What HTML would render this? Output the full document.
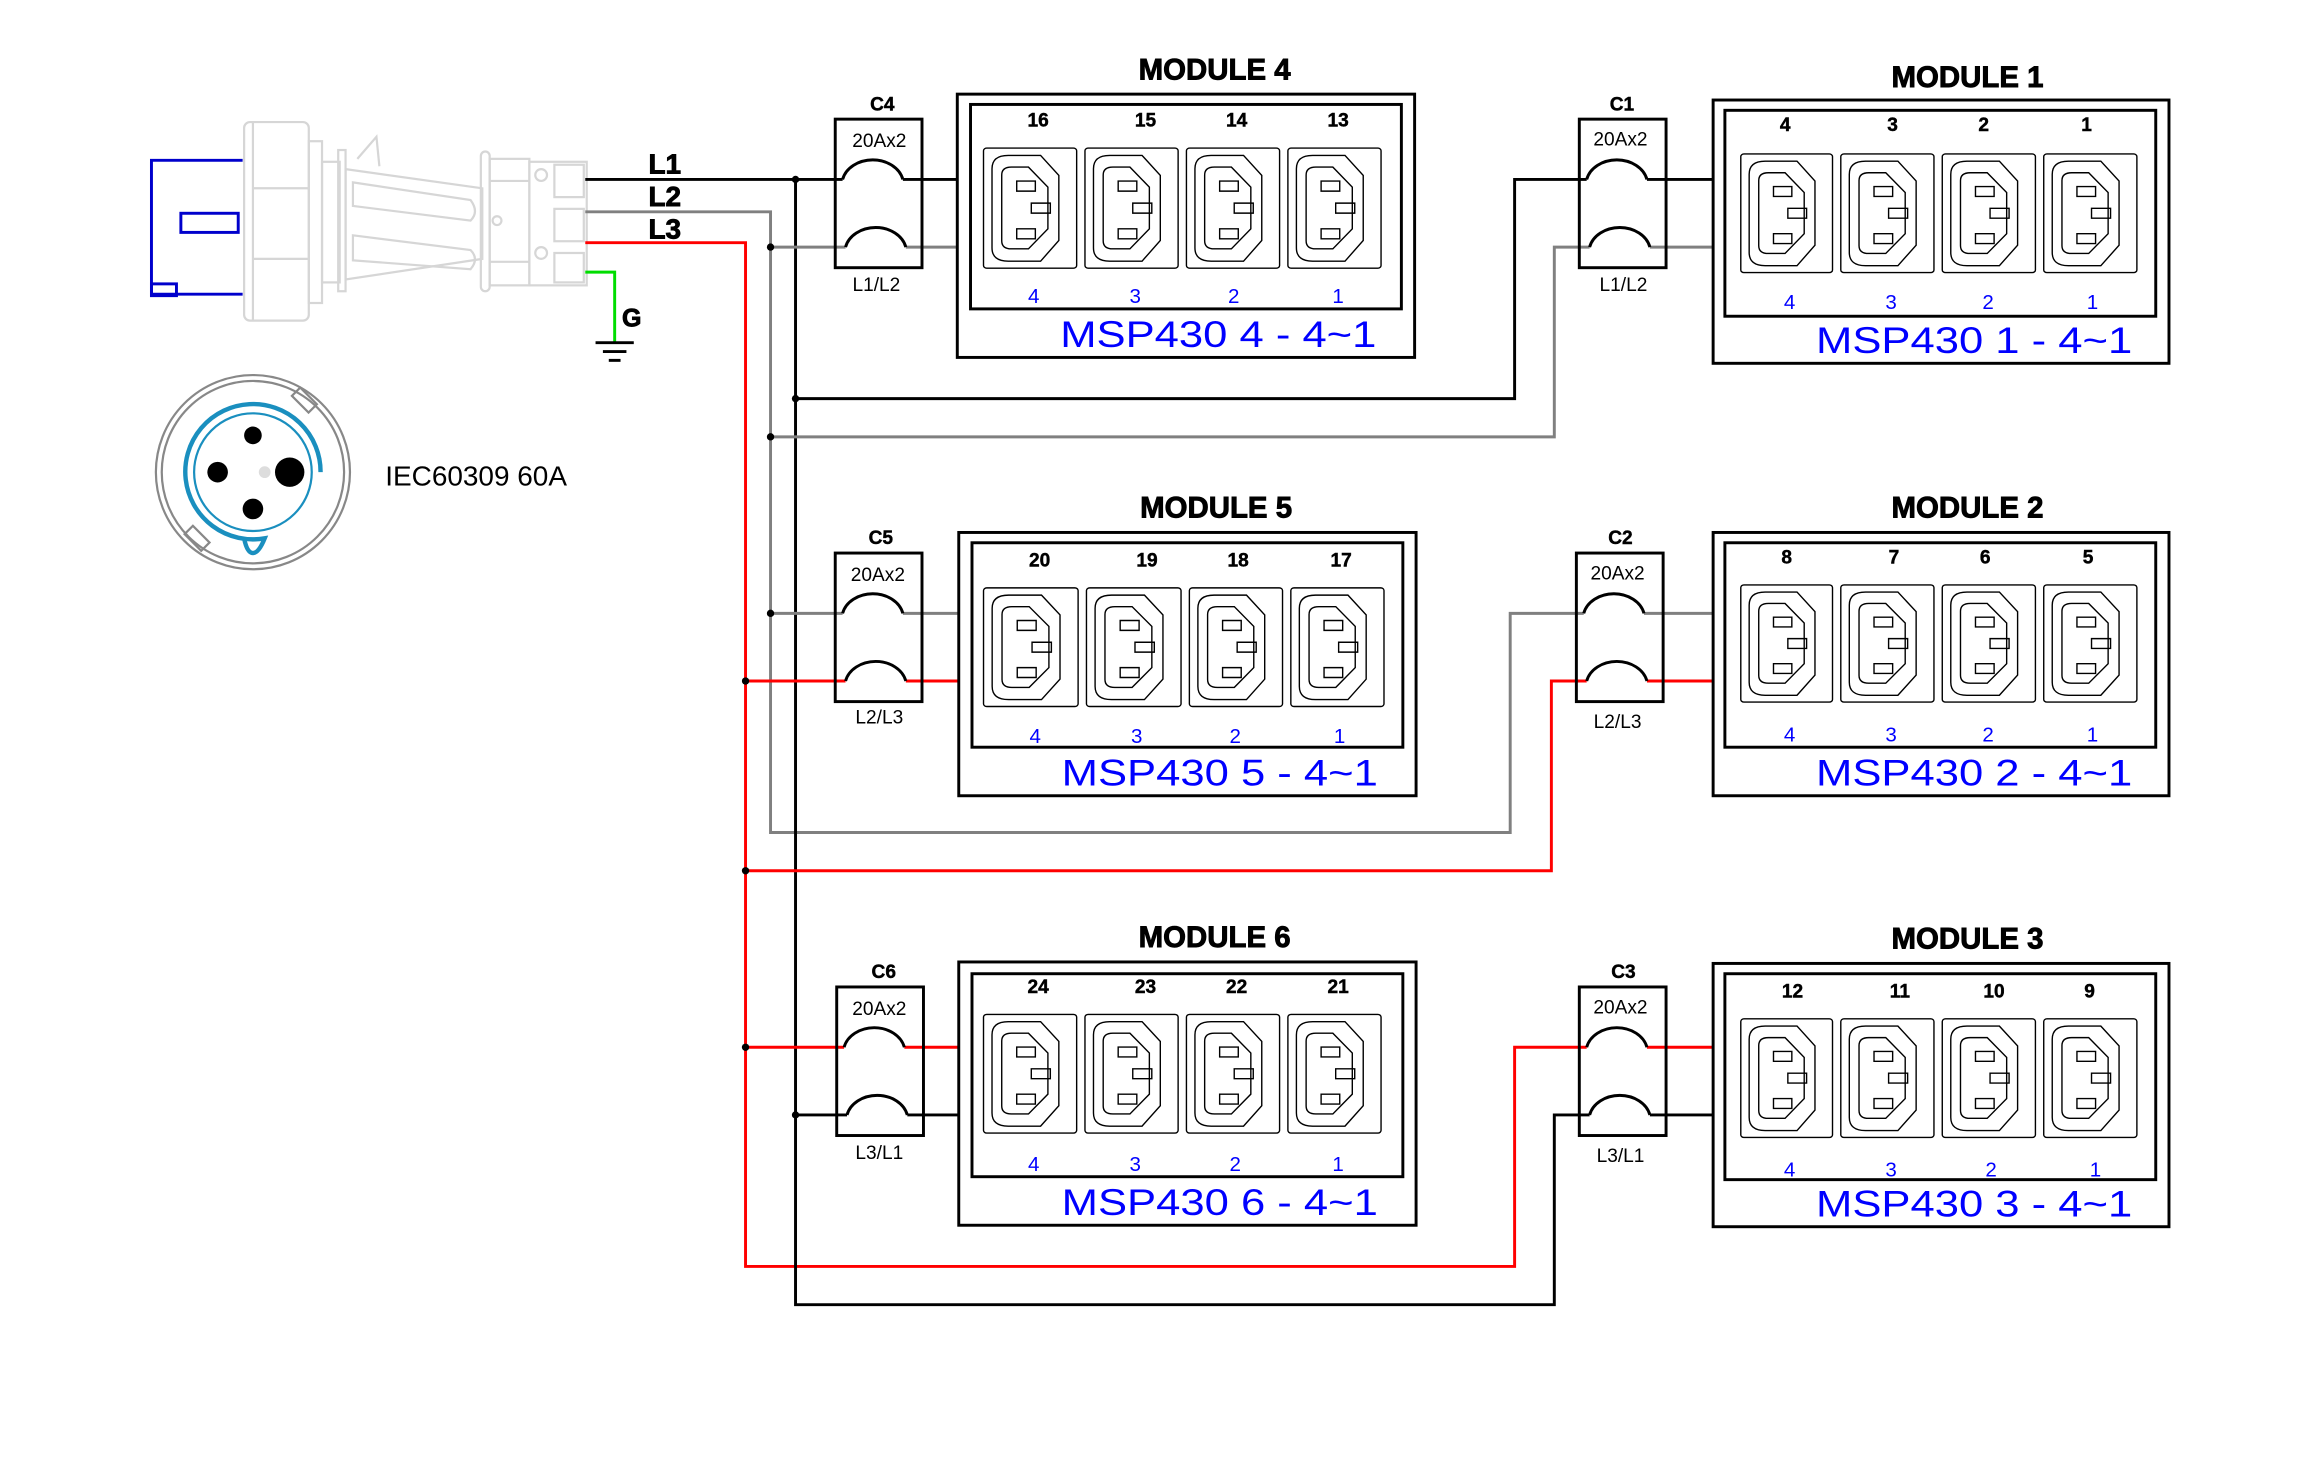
<!DOCTYPE html>
<html><head><meta charset="utf-8"><style>
html,body{margin:0;padding:0;background:#fff;}
svg{display:block;}
text{font-family:"Liberation Sans",sans-serif;}
.t{font-weight:bold;font-size:20px;text-anchor:middle;stroke:#000;stroke-width:0.6;}
.n{font-weight:bold;font-size:13px;text-anchor:middle;stroke:#000;stroke-width:0.3;}
.b{fill:#0000ff;font-size:14px;text-anchor:middle;}
.m{fill:#0000ff;font-size:25px;}
.c{font-size:13px;text-anchor:middle;}
.w{fill:none;stroke-width:2;}
</style></head><body>
<svg width="2305" height="1465" viewBox="0 0 1567.5 996" preserveAspectRatio="none" xmlns="http://www.w3.org/2000/svg">
<defs>
<symbol id="s" viewBox="0 0 236 366" preserveAspectRatio="none">
<g fill="none" stroke="#000" stroke-width="1.4" vector-effect="non-scaling-stroke">
<rect x="3" y="3" width="230" height="360" rx="8" vector-effect="non-scaling-stroke"/>
<path d="M64,25 L144,25 L189,85 L189,280 L144,342 L64,342 Q24,342 24,302 L24,65 Q24,25 64,25 Z" vector-effect="non-scaling-stroke"/>
<path d="M72,60 L114,60 L162,120 L162,245 L114,305 L72,305 Q48,305 48,281 L48,84 Q48,60 72,60 Z" vector-effect="non-scaling-stroke"/>
<rect x="85" y="102" width="46" height="30" vector-effect="non-scaling-stroke"/>
<rect x="121" y="168" width="47" height="30" vector-effect="non-scaling-stroke"/>
<rect x="85" y="245" width="46" height="30" vector-effect="non-scaling-stroke"/>
</g>
</symbol>
</defs>

<!-- plug -->
<g fill="none" stroke="#d6d6d6" stroke-width="1.5">
<rect x="166" y="83" width="44" height="135" rx="4"/>
<line x1="172" y1="83" x2="172" y2="218"/>
<line x1="172" y1="128" x2="210" y2="128"/><line x1="172" y1="176" x2="210" y2="176"/>
<rect x="210" y="96" width="9" height="110"/>
<rect x="219" y="110" width="12" height="82"/>
<rect x="230" y="102" width="5" height="96"/>
<path d="M235,115 L328,128 L328,176 L235,190 Z"/>
<path d="M243,108 L256,93 L258,113"/>
<path d="M240,124 L320,136 Q326,144 320,150 L240,140 Z"/>
<path d="M240,160 L320,170 Q326,176 320,183 L240,177 Z"/>
<rect x="327" y="103" width="6" height="95" rx="3"/>
<rect x="333" y="108" width="27" height="86"/>
<line x1="333" y1="123" x2="360" y2="123"/><line x1="333" y1="178" x2="360" y2="178"/>
<rect x="360" y="110" width="39" height="84"/>
<rect x="377" y="112" width="20" height="22"/><rect x="377" y="142" width="20" height="22"/><rect x="377" y="172" width="20" height="20"/>
<circle cx="368" cy="119" r="4"/><circle cx="368" cy="172" r="4"/><circle cx="338" cy="150" r="3"/>
</g>
<g fill="none" stroke="#0000cc" stroke-width="2">
<path d="M165,109 H103 V200 H165"/>
<rect x="123" y="145" width="39" height="13"/>
<rect x="103" y="193" width="17" height="8"/>
</g>

<!-- circle socket -->
<g fill="none">
<circle cx="172" cy="321" r="66" stroke="#888" stroke-width="1.5"/>
<circle cx="172" cy="321" r="62" stroke="#888" stroke-width="1.5"/>
<rect x="203" y="264" width="8" height="16" stroke="#888" stroke-width="1.5" transform="rotate(-45 207 272)"/>
<rect x="130" y="358" width="8" height="16" stroke="#888" stroke-width="1.5" transform="rotate(-45 134 366)"/>
<path d="M218,321 A46,46 0 1 0 180,366 Q176,376 172,376 Q168,376 166,366" stroke="#1a8fbf" stroke-width="3"/>
<circle cx="172" cy="321" r="40" stroke="#1a8fbf" stroke-width="1.5"/>
</g>
<circle cx="172" cy="296" r="6"/><circle cx="148" cy="321" r="7"/><circle cx="197" cy="321" r="10"/><circle cx="172" cy="346" r="7"/>
<circle cx="180" cy="321" r="4" fill="#ddd"/>
<text x="262" y="330" font-size="19">IEC60309 60A</text>

<!-- wires -->
<g class="w">
<path d="M398,122 H573 M614,122 H651" stroke="#000"/>
<path d="M398,144 H524 V566 H1027 V417 H1077 M1118,417 H1165" stroke="#808080"/>
<path d="M398,165 H507 V861 H1030 V712 H1079 M1120,712 H1165" stroke="#ff0000"/>
<path d="M541,122 V887 H1057 V758 H1081 M1122,758 H1165" stroke="#000"/>
<path d="M398,185 H418 V233" stroke="#00dd00"/>
<path d="M524,168 H575 M616,168 H651" stroke="#808080"/>
<path d="M541,271 H1030 V122 H1079 M1120,122 H1165" stroke="#000"/>
<path d="M524,297 H1057 V168 H1081 M1122,168 H1165" stroke="#808080"/>
<path d="M524,417 H573 M614,417 H652" stroke="#808080"/>
<path d="M507,463 H575 M616,463 H652" stroke="#ff0000"/>
<path d="M507,592 H1055 V463 H1079 M1120,463 H1165" stroke="#ff0000"/>
<path d="M507,712 H574 M615,712 H652" stroke="#ff0000"/>
<path d="M541,758 H576 M617,758 H652" stroke="#000"/>
</g>
<g stroke="#000" stroke-width="2"><line x1="405" y1="233" x2="431" y2="233"/><line x1="410" y1="239" x2="426" y2="239"/><line x1="414" y1="245" x2="422" y2="245"/></g>
<g font-weight="bold" font-size="19" stroke="#000" stroke-width="0.6"><text x="441" y="118">L1</text><text x="441" y="140">L2</text><text x="441" y="162">L3</text><text x="423" y="222" font-size="17">G</text></g>
<g><circle cx="541" cy="122" r="2.5"/><circle cx="524" cy="168" r="2.5"/><circle cx="541" cy="271" r="2.5"/><circle cx="524" cy="297" r="2.5"/><circle cx="524" cy="417" r="2.5"/><circle cx="507" cy="463" r="2.5"/><circle cx="507" cy="592" r="2.5"/><circle cx="507" cy="712" r="2.5"/><circle cx="541" cy="758" r="2.5"/></g>

<!-- breakers -->
<g fill="none" stroke="#000" stroke-width="2">
<rect x="568" y="81" width="59" height="101"/><path d="M573,122 A21,17 0 0 1 614,122 M575,168 A21,17 0 0 1 616,168"/>
<rect x="568" y="376" width="59" height="101"/><path d="M573,417 A21,17 0 0 1 614,417 M575,463 A21,17 0 0 1 616,463"/>
<rect x="569" y="671" width="59" height="101"/><path d="M574,712 A21,17 0 0 1 615,712 M576,758 A21,17 0 0 1 617,758"/>
<rect x="1074" y="81" width="59" height="101"/><path d="M1079,122 A21,17 0 0 1 1120,122 M1081,168 A21,17 0 0 1 1122,168"/>
<rect x="1072" y="376" width="59" height="101"/><path d="M1077,417 A21,17 0 0 1 1118,417 M1079,463 A21,17 0 0 1 1120,463"/>
<rect x="1074" y="671" width="59" height="101"/><path d="M1079,712 A21,17 0 0 1 1120,712 M1081,758 A21,17 0 0 1 1122,758"/>
</g>
<text class="n" x="600" y="75">C4</text><text class="c" x="598" y="100">20Ax2</text><text class="c" x="596" y="198">L1/L2</text>
<text class="n" x="599" y="370">C5</text><text class="c" x="597" y="395">20Ax2</text><text class="c" x="598" y="492">L2/L3</text>
<text class="n" x="601" y="665">C6</text><text class="c" x="598" y="690">20Ax2</text><text class="c" x="598" y="788">L3/L1</text>
<text class="n" x="1103" y="75">C1</text><text class="c" x="1102" y="99">20Ax2</text><text class="c" x="1104" y="198">L1/L2</text>
<text class="n" x="1102" y="370">C2</text><text class="c" x="1100" y="394">20Ax2</text><text class="c" x="1100" y="495">L2/L3</text>
<text class="n" x="1104" y="665">C3</text><text class="c" x="1102" y="689">20Ax2</text><text class="c" x="1102" y="790">L3/L1</text>

<!-- modules -->
<g fill="none" stroke="#000" stroke-width="2">
<rect x="651" y="64" width="311" height="179"/><rect x="660" y="71" width="293" height="139"/>
<rect x="652" y="362" width="311" height="179"/><rect x="661" y="369" width="293" height="139"/>
<rect x="652" y="654" width="311" height="179"/><rect x="661" y="662" width="293" height="138"/>
<rect x="1165" y="68" width="310" height="179"/><rect x="1173" y="75" width="293" height="140"/>
<rect x="1165" y="362" width="310" height="179"/><rect x="1173" y="369" width="293" height="139"/>
<rect x="1165" y="655" width="310" height="179"/><rect x="1173" y="662" width="293" height="140"/>
</g>
<g>
<use href="#s" x="668" y="100" width="65" height="83"/><use href="#s" x="737" y="100" width="65" height="83"/><use href="#s" x="806" y="100" width="65" height="83"/><use href="#s" x="875" y="100" width="65" height="83"/>
<use href="#s" x="668" y="399" width="66" height="82"/><use href="#s" x="738" y="399" width="66" height="82"/><use href="#s" x="808" y="399" width="65" height="82"/><use href="#s" x="877" y="399" width="65" height="82"/>
<use href="#s" x="668" y="689" width="65" height="82"/><use href="#s" x="737" y="689" width="65" height="82"/><use href="#s" x="806" y="689" width="65" height="82"/><use href="#s" x="875" y="689" width="65" height="82"/>
<use href="#s" x="1183" y="104" width="64" height="82"/><use href="#s" x="1251" y="104" width="65" height="82"/><use href="#s" x="1320" y="104" width="65" height="82"/><use href="#s" x="1389" y="104" width="65" height="82"/>
<use href="#s" x="1183" y="397" width="64" height="81"/><use href="#s" x="1251" y="397" width="65" height="81"/><use href="#s" x="1320" y="397" width="65" height="81"/><use href="#s" x="1389" y="397" width="65" height="81"/>
<use href="#s" x="1183" y="692" width="64" height="82"/><use href="#s" x="1251" y="692" width="65" height="82"/><use href="#s" x="1320" y="692" width="65" height="82"/><use href="#s" x="1389" y="692" width="65" height="82"/>
</g>

<text class="t" x="826" y="54">MODULE 4</text>
<text class="n" x="706" y="86">16</text><text class="n" x="779" y="86">15</text><text class="n" x="841" y="86">14</text><text class="n" x="910" y="86">13</text>
<text class="b" x="703" y="206">4</text><text class="b" x="772" y="206">3</text><text class="b" x="839" y="206">2</text><text class="b" x="910" y="206">1</text>
<text class="m" x="721" y="236" textLength="215" lengthAdjust="spacingAndGlyphs">MSP430 4 - 4~1</text>

<text class="t" x="827" y="352">MODULE 5</text>
<text class="n" x="707" y="385">20</text><text class="n" x="780" y="385">19</text><text class="n" x="842" y="385">18</text><text class="n" x="912" y="385">17</text>
<text class="b" x="704" y="505">4</text><text class="b" x="773" y="505">3</text><text class="b" x="840" y="505">2</text><text class="b" x="911" y="505">1</text>
<text class="m" x="722" y="534" textLength="215" lengthAdjust="spacingAndGlyphs">MSP430 5 - 4~1</text>

<text class="t" x="826" y="644">MODULE 6</text>
<text class="n" x="706" y="675">24</text><text class="n" x="779" y="675">23</text><text class="n" x="841" y="675">22</text><text class="n" x="910" y="675">21</text>
<text class="b" x="703" y="796">4</text><text class="b" x="772" y="796">3</text><text class="b" x="840" y="796">2</text><text class="b" x="910" y="796">1</text>
<text class="m" x="722" y="826" textLength="215" lengthAdjust="spacingAndGlyphs">MSP430 6 - 4~1</text>

<text class="t" x="1338" y="59">MODULE 1</text>
<text class="n" x="1214" y="89">4</text><text class="n" x="1287" y="89">3</text><text class="n" x="1349" y="89">2</text><text class="n" x="1419" y="89">1</text>
<text class="b" x="1217" y="210">4</text><text class="b" x="1286" y="210">3</text><text class="b" x="1352" y="210">2</text><text class="b" x="1423" y="210">1</text>
<text class="m" x="1235" y="240" textLength="215" lengthAdjust="spacingAndGlyphs">MSP430 1 - 4~1</text>

<text class="t" x="1338" y="352">MODULE 2</text>
<text class="n" x="1215" y="383">8</text><text class="n" x="1288" y="383">7</text><text class="n" x="1350" y="383">6</text><text class="n" x="1420" y="383">5</text>
<text class="b" x="1217" y="504">4</text><text class="b" x="1286" y="504">3</text><text class="b" x="1352" y="504">2</text><text class="b" x="1423" y="504">1</text>
<text class="m" x="1235" y="534" textLength="215" lengthAdjust="spacingAndGlyphs">MSP430 2 - 4~1</text>

<text class="t" x="1338" y="645">MODULE 3</text>
<text class="n" x="1219" y="678">12</text><text class="n" x="1292" y="678">11</text><text class="n" x="1356" y="678">10</text><text class="n" x="1421" y="678">9</text>
<text class="b" x="1217" y="800">4</text><text class="b" x="1286" y="800">3</text><text class="b" x="1354" y="800">2</text><text class="b" x="1425" y="800">1</text>
<text class="m" x="1235" y="827" textLength="215" lengthAdjust="spacingAndGlyphs">MSP430 3 - 4~1</text>
</svg>
</body></html>
